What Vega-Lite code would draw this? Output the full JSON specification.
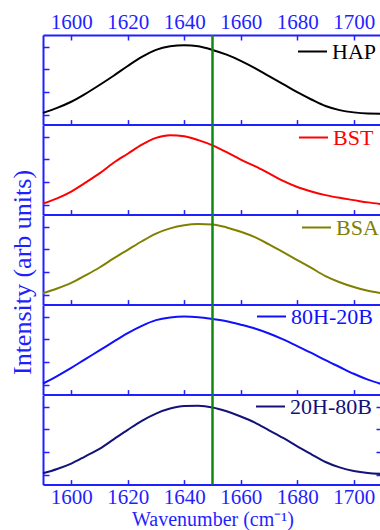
{
  "$schema": "https://vega.github.io/schema/vega-lite/v6.json",
  "autosize": {"type": "pad"},
  "padding": {"left": 9, "top": 11, "right": 0, "bottom": 0},
  "background": "white",
  "config": {
    "view": {"stroke": null},
    "font": "Liberation Serif",
    "axis": {
      "domainColor": "#1f1fff", "tickColor": "#1f1fff", "labelColor": "#1f1fff", "titleColor": "#1f1fff",
      "domainWidth": 2, "tickWidth": 1.5, "grid": false, "format": "d",
      "labelFont": "Liberation Serif", "titleFont": "Liberation Serif",
      "labelFontSize": 21, "titleFontSize": 20, "titleFontWeight": "normal"
    },
    "legend": {
      "orient": "none", "title": null, "symbolType": "stroke", "symbolSize": 841, "symbolStrokeWidth": 2,
      "labelFont": "Liberation Serif", "labelFontSize": 22, "padding": 0, "labelOffset": 4
    }
  },
  "datasets": {
    "HAP": [
      {"wavenumber":1590,"intensity":0.08,"sample":"HAP"},{"wavenumber":1595,"intensity":0.30,"sample":"HAP"},{"wavenumber":1600,"intensity":0.57,"sample":"HAP"},{"wavenumber":1605,"intensity":0.92,"sample":"HAP"},{"wavenumber":1610,"intensity":1.31,"sample":"HAP"},{"wavenumber":1615,"intensity":1.72,"sample":"HAP"},{"wavenumber":1620,"intensity":2.15,"sample":"HAP"},{"wavenumber":1625,"intensity":2.55,"sample":"HAP"},{"wavenumber":1630,"intensity":2.86,"sample":"HAP"},{"wavenumber":1635,"intensity":3.02,"sample":"HAP"},{"wavenumber":1640,"intensity":3.07,"sample":"HAP"},{"wavenumber":1645,"intensity":3.02,"sample":"HAP"},{"wavenumber":1650,"intensity":2.86,"sample":"HAP"},{"wavenumber":1655,"intensity":2.65,"sample":"HAP"},{"wavenumber":1660,"intensity":2.38,"sample":"HAP"},{"wavenumber":1665,"intensity":2.06,"sample":"HAP"},{"wavenumber":1670,"intensity":1.70,"sample":"HAP"},{"wavenumber":1675,"intensity":1.35,"sample":"HAP"},{"wavenumber":1680,"intensity":0.99,"sample":"HAP"},{"wavenumber":1685,"intensity":0.67,"sample":"HAP"},{"wavenumber":1690,"intensity":0.38,"sample":"HAP"},{"wavenumber":1695,"intensity":0.20,"sample":"HAP"},{"wavenumber":1700,"intensity":0.10,"sample":"HAP"},{"wavenumber":1705,"intensity":0.05,"sample":"HAP"},{"wavenumber":1710,"intensity":0.04,"sample":"HAP"}
    ],
    "BST": [
      {"wavenumber":1590,"intensity":0.05,"sample":"BST"},{"wavenumber":1595,"intensity":0.28,"sample":"BST"},{"wavenumber":1600,"intensity":0.58,"sample":"BST"},{"wavenumber":1605,"intensity":0.97,"sample":"BST"},{"wavenumber":1610,"intensity":1.38,"sample":"BST"},{"wavenumber":1615,"intensity":1.85,"sample":"BST"},{"wavenumber":1620,"intensity":2.25,"sample":"BST"},{"wavenumber":1625,"intensity":2.65,"sample":"BST"},{"wavenumber":1630,"intensity":2.95,"sample":"BST"},{"wavenumber":1635,"intensity":3.07,"sample":"BST"},{"wavenumber":1640,"intensity":3.02,"sample":"BST"},{"wavenumber":1645,"intensity":2.85,"sample":"BST"},{"wavenumber":1650,"intensity":2.62,"sample":"BST"},{"wavenumber":1655,"intensity":2.32,"sample":"BST"},{"wavenumber":1660,"intensity":1.99,"sample":"BST"},{"wavenumber":1665,"intensity":1.70,"sample":"BST"},{"wavenumber":1670,"intensity":1.38,"sample":"BST"},{"wavenumber":1675,"intensity":1.05,"sample":"BST"},{"wavenumber":1680,"intensity":0.78,"sample":"BST"},{"wavenumber":1685,"intensity":0.58,"sample":"BST"},{"wavenumber":1690,"intensity":0.42,"sample":"BST"},{"wavenumber":1695,"intensity":0.30,"sample":"BST"},{"wavenumber":1700,"intensity":0.20,"sample":"BST"},{"wavenumber":1705,"intensity":0.10,"sample":"BST"},{"wavenumber":1710,"intensity":0.02,"sample":"BST"}
    ],
    "BSA": [
      {"wavenumber":1590,"intensity":0.06,"sample":"BSA"},{"wavenumber":1595,"intensity":0.27,"sample":"BSA"},{"wavenumber":1600,"intensity":0.52,"sample":"BSA"},{"wavenumber":1605,"intensity":0.85,"sample":"BSA"},{"wavenumber":1610,"intensity":1.20,"sample":"BSA"},{"wavenumber":1615,"intensity":1.60,"sample":"BSA"},{"wavenumber":1620,"intensity":1.98,"sample":"BSA"},{"wavenumber":1625,"intensity":2.36,"sample":"BSA"},{"wavenumber":1630,"intensity":2.70,"sample":"BSA"},{"wavenumber":1635,"intensity":2.93,"sample":"BSA"},{"wavenumber":1640,"intensity":3.07,"sample":"BSA"},{"wavenumber":1645,"intensity":3.12,"sample":"BSA"},{"wavenumber":1650,"intensity":3.10,"sample":"BSA"},{"wavenumber":1655,"intensity":2.97,"sample":"BSA"},{"wavenumber":1660,"intensity":2.78,"sample":"BSA"},{"wavenumber":1665,"intensity":2.54,"sample":"BSA"},{"wavenumber":1670,"intensity":2.22,"sample":"BSA"},{"wavenumber":1675,"intensity":1.88,"sample":"BSA"},{"wavenumber":1680,"intensity":1.53,"sample":"BSA"},{"wavenumber":1685,"intensity":1.18,"sample":"BSA"},{"wavenumber":1690,"intensity":0.82,"sample":"BSA"},{"wavenumber":1695,"intensity":0.55,"sample":"BSA"},{"wavenumber":1700,"intensity":0.34,"sample":"BSA"},{"wavenumber":1705,"intensity":0.17,"sample":"BSA"},{"wavenumber":1710,"intensity":0.06,"sample":"BSA"}
    ],
    "H80": [
      {"wavenumber":1590,"intensity":0.05,"sample":"80H-20B"},{"wavenumber":1595,"intensity":0.38,"sample":"80H-20B"},{"wavenumber":1600,"intensity":0.74,"sample":"80H-20B"},{"wavenumber":1605,"intensity":1.13,"sample":"80H-20B"},{"wavenumber":1610,"intensity":1.51,"sample":"80H-20B"},{"wavenumber":1615,"intensity":1.90,"sample":"80H-20B"},{"wavenumber":1620,"intensity":2.28,"sample":"80H-20B"},{"wavenumber":1625,"intensity":2.60,"sample":"80H-20B"},{"wavenumber":1630,"intensity":2.85,"sample":"80H-20B"},{"wavenumber":1635,"intensity":2.97,"sample":"80H-20B"},{"wavenumber":1640,"intensity":3.01,"sample":"80H-20B"},{"wavenumber":1645,"intensity":2.98,"sample":"80H-20B"},{"wavenumber":1650,"intensity":2.90,"sample":"80H-20B"},{"wavenumber":1655,"intensity":2.80,"sample":"80H-20B"},{"wavenumber":1660,"intensity":2.65,"sample":"80H-20B"},{"wavenumber":1665,"intensity":2.48,"sample":"80H-20B"},{"wavenumber":1670,"intensity":2.26,"sample":"80H-20B"},{"wavenumber":1675,"intensity":2.00,"sample":"80H-20B"},{"wavenumber":1680,"intensity":1.70,"sample":"80H-20B"},{"wavenumber":1685,"intensity":1.40,"sample":"80H-20B"},{"wavenumber":1690,"intensity":1.08,"sample":"80H-20B"},{"wavenumber":1695,"intensity":0.78,"sample":"80H-20B"},{"wavenumber":1700,"intensity":0.48,"sample":"80H-20B"},{"wavenumber":1705,"intensity":0.22,"sample":"80H-20B"},{"wavenumber":1710,"intensity":0.02,"sample":"80H-20B"}
    ],
    "H20": [
      {"wavenumber":1590,"intensity":0.06,"sample":"20H-80B"},{"wavenumber":1595,"intensity":0.25,"sample":"20H-80B"},{"wavenumber":1600,"intensity":0.49,"sample":"20H-80B"},{"wavenumber":1605,"intensity":0.81,"sample":"20H-80B"},{"wavenumber":1610,"intensity":1.14,"sample":"20H-80B"},{"wavenumber":1615,"intensity":1.56,"sample":"20H-80B"},{"wavenumber":1620,"intensity":1.98,"sample":"20H-80B"},{"wavenumber":1625,"intensity":2.38,"sample":"20H-80B"},{"wavenumber":1630,"intensity":2.70,"sample":"20H-80B"},{"wavenumber":1635,"intensity":2.92,"sample":"20H-80B"},{"wavenumber":1640,"intensity":3.03,"sample":"20H-80B"},{"wavenumber":1645,"intensity":3.04,"sample":"20H-80B"},{"wavenumber":1650,"intensity":2.97,"sample":"20H-80B"},{"wavenumber":1655,"intensity":2.80,"sample":"20H-80B"},{"wavenumber":1660,"intensity":2.57,"sample":"20H-80B"},{"wavenumber":1665,"intensity":2.30,"sample":"20H-80B"},{"wavenumber":1670,"intensity":1.96,"sample":"20H-80B"},{"wavenumber":1675,"intensity":1.62,"sample":"20H-80B"},{"wavenumber":1680,"intensity":1.25,"sample":"20H-80B"},{"wavenumber":1685,"intensity":0.90,"sample":"20H-80B"},{"wavenumber":1690,"intensity":0.56,"sample":"20H-80B"},{"wavenumber":1695,"intensity":0.32,"sample":"20H-80B"},{"wavenumber":1700,"intensity":0.16,"sample":"20H-80B"},{"wavenumber":1705,"intensity":0.07,"sample":"20H-80B"},{"wavenumber":1710,"intensity":0.03,"sample":"20H-80B"}
    ],
    "marker": [{"wavenumber": 1650}]
  },
  "spacing": 0,
  "bounds": "flush",
  "resolve": {"scale": {"color": "independent"}, "legend": {"color": "independent"}},
  "vconcat": [
    {
      "width": 339, "height": 89.6,
      "resolve": {"axis": {"x": "independent"}},
      "layer": [
        {
          "data": {"name": "HAP"},
          "mark": {"type": "line", "strokeWidth": 2, "interpolate": "monotone"},
          "encoding": {
            "x": {"field": "wavenumber", "type": "quantitative", "scale": {"domain": [1590, 1710], "nice": false, "zero": false},
                  "axis": {"orient": "bottom", "values": [1600,1620,1640,1660,1680,1700], "tickSize": -5, "labels": false, "title": null}},
            "y": {"field": "intensity", "type": "quantitative", "scale": {"domain": [-0.44, 3.52], "nice": false, "zero": false},
                  "axis": {"orient": "left", "values": [0,1,2,3], "tickSize": -6, "labels": false, "title": null}},
            "color": {"field": "sample", "type": "nominal", "scale": {"domain": ["HAP"], "range": ["#000000"]},
                      "legend": {"orient": "none", "legendX": 254, "legendY": 1, "labelColor": "#000000", "labelFont": "Liberation Serif", "labelFontSize": 22, "symbolSize": 841, "symbolStrokeWidth": 2, "labelOffset": 4}}
          }
        },
        {
          "data": {"name": "marker"},
          "mark": {"type": "rule", "color": "#0f8a0f", "strokeWidth": 2.5},
          "encoding": {
            "x": {"field": "wavenumber", "type": "quantitative",
                  "axis": {"orient": "top", "values": [1600,1620,1640,1660,1680,1700], "tickSize": -5, "labelPadding": 8, "title": null}}
          }
        }
      ]
    },
    {
      "width": 339, "height": 89.6,
      "layer": [
        {
          "data": {"name": "BST"},
          "mark": {"type": "line", "strokeWidth": 2, "interpolate": "monotone"},
          "encoding": {
            "x": {"field": "wavenumber", "type": "quantitative", "scale": {"domain": [1590, 1710], "nice": false, "zero": false},
                  "axis": {"orient": "bottom", "values": [1600,1620,1640,1660,1680,1700], "tickSize": -5, "labels": false, "title": null}},
            "y": {"field": "intensity", "type": "quantitative", "scale": {"domain": [-0.44, 3.52], "nice": false, "zero": false},
                  "axis": {"orient": "left", "values": [0,1,2,3], "tickSize": -6, "labels": false, "title": null}},
            "color": {"field": "sample", "type": "nominal", "scale": {"domain": ["BST"], "range": ["#ff0000"]},
                      "legend": {"orient": "none", "legendX": 255, "legendY": -3, "labelColor": "#ff0000", "labelFont": "Liberation Serif", "labelFontSize": 22, "symbolSize": 841, "symbolStrokeWidth": 2, "labelOffset": 4}}
          }
        },
        {
          "data": {"name": "marker"},
          "mark": {"type": "rule", "color": "#0f8a0f", "strokeWidth": 2.5},
          "encoding": {"x": {"field": "wavenumber", "type": "quantitative"}}
        }
      ]
    },
    {
      "width": 339, "height": 89.6,
      "layer": [
        {
          "data": {"name": "BSA"},
          "mark": {"type": "line", "strokeWidth": 2, "interpolate": "monotone"},
          "encoding": {
            "x": {"field": "wavenumber", "type": "quantitative", "scale": {"domain": [1590, 1710], "nice": false, "zero": false},
                  "axis": {"orient": "bottom", "values": [1600,1620,1640,1660,1680,1700], "tickSize": -5, "labels": false, "title": null}},
            "y": {"field": "intensity", "type": "quantitative", "scale": {"domain": [-0.44, 3.52], "nice": false, "zero": false},
                  "axis": {"orient": "left", "values": [0,1,2,3], "tickSize": -6, "labels": false, "title": "Intensity (arb units)", "titleFontSize": 26, "titlePadding": 7, "titleY": 57}},
            "color": {"field": "sample", "type": "nominal", "scale": {"domain": ["BSA"], "range": ["#808000"]},
                      "legend": {"orient": "none", "legendX": 258, "legendY": -3, "labelColor": "#808000", "labelFont": "Liberation Serif", "labelFontSize": 22, "symbolSize": 841, "symbolStrokeWidth": 2, "labelOffset": 4}}
          }
        },
        {
          "data": {"name": "marker"},
          "mark": {"type": "rule", "color": "#0f8a0f", "strokeWidth": 2.5},
          "encoding": {"x": {"field": "wavenumber", "type": "quantitative"}}
        }
      ]
    },
    {
      "width": 339, "height": 89.6,
      "layer": [
        {
          "data": {"name": "H80"},
          "mark": {"type": "line", "strokeWidth": 2, "interpolate": "monotone"},
          "encoding": {
            "x": {"field": "wavenumber", "type": "quantitative", "scale": {"domain": [1590, 1710], "nice": false, "zero": false},
                  "axis": {"orient": "bottom", "values": [1600,1620,1640,1660,1680,1700], "tickSize": -5, "labels": false, "title": null}},
            "y": {"field": "intensity", "type": "quantitative", "scale": {"domain": [-0.44, 3.52], "nice": false, "zero": false},
                  "axis": {"orient": "left", "values": [0,1,2,3], "tickSize": -6, "labels": false, "title": null}},
            "color": {"field": "sample", "type": "nominal", "scale": {"domain": ["80H-20B"], "range": ["#1010ff"]},
                      "legend": {"orient": "none", "legendX": 213, "legendY": -4, "labelColor": "#1010ff", "labelFont": "Liberation Serif", "labelFontSize": 22, "symbolSize": 841, "symbolStrokeWidth": 2, "labelOffset": 4}}
          }
        },
        {
          "data": {"name": "marker"},
          "mark": {"type": "rule", "color": "#0f8a0f", "strokeWidth": 2.5},
          "encoding": {"x": {"field": "wavenumber", "type": "quantitative"}}
        }
      ]
    },
    {
      "width": 339, "height": 89.6,
      "resolve": {"axis": {"y": "independent"}},
      "layer": [
        {
          "data": {"name": "H20"},
          "mark": {"type": "line", "strokeWidth": 2, "interpolate": "monotone"},
          "encoding": {
            "x": {"field": "wavenumber", "type": "quantitative", "scale": {"domain": [1590, 1710], "nice": false, "zero": false},
                  "axis": {"orient": "bottom", "values": [1600,1610,1620,1630,1640,1650,1660,1670,1680,1690,1700], "tickSize": -5, "labelPadding": 7,
                           "labelExpr": "datum.value % 20 == 0 ? datum.label : ''", "title": "Wavenumber (cm⁻¹)", "titlePadding": 2}},
            "y": {"field": "intensity", "type": "quantitative", "scale": {"domain": [-0.44, 3.52], "nice": false, "zero": false},
                  "axis": {"orient": "left", "values": [0,1,2,3], "tickSize": -6, "labels": false, "title": null}},
            "color": {"field": "sample", "type": "nominal", "scale": {"domain": ["20H-80B"], "range": ["#12127a"]},
                      "legend": {"orient": "none", "legendX": 212, "legendY": -4, "labelColor": "#12127a", "labelFont": "Liberation Serif", "labelFontSize": 22, "symbolSize": 841, "symbolStrokeWidth": 2, "labelOffset": 4}}
          }
        },
        {
          "data": {"name": "marker"},
          "mark": {"type": "rule", "color": "#0f8a0f", "strokeWidth": 2.5},
          "encoding": {"x": {"field": "wavenumber", "type": "quantitative"}}
        },
        {
          "data": {"name": "H20"},
          "mark": {"type": "point", "opacity": 0},
          "encoding": {
            "x": {"field": "wavenumber", "type": "quantitative"},
            "y": {"field": "intensity", "type": "quantitative",
                  "axis": {"orient": "right", "values": [0,1,2,3], "tickSize": -6, "labels": false, "title": null}}
          }
        }
      ]
    }
  ]
}
